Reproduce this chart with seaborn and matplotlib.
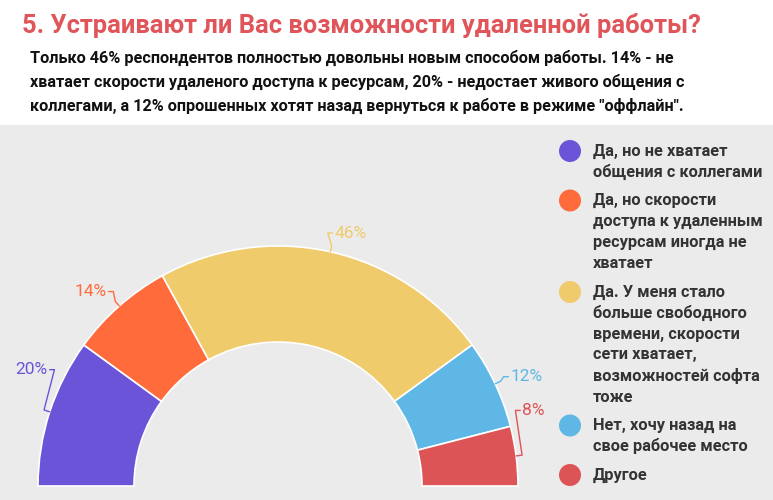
import numpy as np
import matplotlib
matplotlib.use("Agg")
import matplotlib.pyplot as plt
import seaborn as sns
from matplotlib.patches import Rectangle, Ellipse

# ---- data ----
categories = [
    "Да, но не хватает\nобщения с коллегами",
    "Да, но скорости\nдоступа к удаленным\nресурсам иногда не\nхватает",
    "Да. У меня стало\nбольше свободного\nвремени, скорости\nсети хватает,\nвозможностей софта\nтоже",
    "Нет, хочу назад на\nсвое рабочее место",
    "Другое",
]
values = [20, 14, 46, 12, 8]
value_labels = ["20%", "14%", "46%", "12%", "8%"]
colors = ["#6c54d9", "#ff6b3a", "#f0cb6c", "#5fb7e5", "#dd5457"]

title = "5. Устраивают ли Вас возможности удаленной работы?"
subtitle_lines = [
    "Только 46% респондентов полностью довольны новым способом работы. 14% - не",
    "хватает скорости удаленого доступа к ресурсам, 20% - недостает живого общения с",
    "коллегами, а 12% опрошенных хотят назад вернуться к работе в режиме \"оффлайн\".",
]

# label placement tweaks (degrees) to avoid overlaps
label_angle_shift = [-8.8, 0, 0, 0, 10]
label_radius = [1.075, 1.08, 1.08, 1.07, 1.065]

sns.set_theme(style="white")
plt.rcParams["font.family"] = ["Roboto", "DejaVu Sans"]

W, H = 773, 500
fig = plt.figure(figsize=(W / 100, H / 100), dpi=100)
fig.patch.set_facecolor("white")

def fx(x):
    return x / W

def fy(y):
    return 1 - y / H

# gray chart background
fig.patches.append(Rectangle((0, 0), 1, fy(125), transform=fig.transFigure,
                             facecolor="#ebebeb", edgecolor="none", zorder=-5))

# title and subtitle
fig.text(fx(22), fy(25), title, color="#e0555a", fontsize=18.4, fontweight="bold",
         va="center", ha="left")
for i, line in enumerate(subtitle_lines):
    fig.text(fx(30), fy(58 + 24 * i), line, color="#111111", fontsize=11.7,
             fontweight="bold", va="center", ha="left")

# pie axes: center at (278, 486) px, radius 240 px
R = 240
cx, cy = 278, 486
ax = fig.add_axes([fx(cx - R), fy(cy + R), 2 * R / W, 2 * R / H], zorder=2)
ax.axis("off")
ax.patch.set_alpha(0)

palette = sns.color_palette(colors)
total = sum(values)
wedges, _ = ax.pie(values + [total], colors=list(palette) + [(0, 0, 0, 0)],
                   startangle=180, counterclock=False, radius=1.0,
                   wedgeprops=dict(width=0.4, edgecolor="white", linewidth=1.2))
wedges[-1].set_edgecolor("none")
ax.set_xlim(-1, 1)
ax.set_ylim(-1, 1)
ax.set_aspect("equal")

# percentage labels with connectors
start = 180.0
for i, v in enumerate(values):
    span = 180.0 * v / total
    mid = np.deg2rad(start - span / 2)
    start -= span
    la = mid + np.deg2rad(label_angle_shift[i])
    lr = label_radius[i]
    p0 = np.array([np.cos(mid), np.sin(mid)]) * 1.0
    p1 = np.array([np.cos(mid), np.sin(mid)]) * 1.025
    pl = np.array([np.cos(la), np.sin(la)]) * lr
    left = np.cos(la) < 0
    gap = 0.008
    end = pl + np.array([gap if left else -gap, 0])
    ax.plot([p0[0], p1[0], end[0] + (0.02 if left else -0.02), end[0]],
            [p0[1], p1[1], end[1], end[1]], color=colors[i], lw=1, clip_on=False)
    ax.text(pl[0], pl[1], value_labels[i], color=colors[i], fontsize=12.5,
            ha="right" if left else "left", va="center", clip_on=False)

# legend
y = 151
for i, cat in enumerate(categories):
    lines = cat.split("\n")
    fig.patches.append(Ellipse((fx(570), fy(y)), 22 / W, 22 / H, transform=fig.transFigure,
                               facecolor=colors[i], edgecolor="none", zorder=3))
    for j, ln in enumerate(lines):
        fig.text(fx(593), fy(y + 21 * j), ln, color="#333333", fontsize=11.8,
                 fontweight="bold", va="center", ha="left")
    y += 21 * len(lines) + 7.5

fig.savefig("out.png", dpi=100, facecolor=fig.get_facecolor())
